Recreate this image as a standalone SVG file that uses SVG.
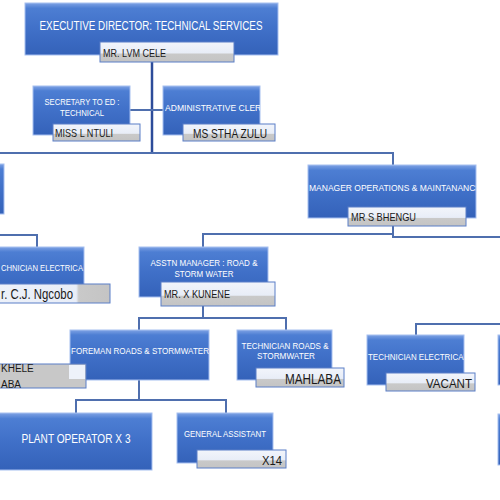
<svg xmlns="http://www.w3.org/2000/svg" width="500" height="500" viewBox="0 0 500 500">
<defs>
<linearGradient id="bx" x1="0" y1="0" x2="0" y2="1">
<stop offset="0" stop-color="#7ea2e4"/>
<stop offset="0.1" stop-color="#4d7ed3"/>
<stop offset="0.5" stop-color="#4070c8"/>
<stop offset="1" stop-color="#3462b9"/>
</linearGradient>
<linearGradient id="nm" x1="0" y1="0" x2="0" y2="1">
<stop offset="0" stop-color="#f2f5fb"/>
<stop offset="0.55" stop-color="#e8edf7"/>
<stop offset="0.6" stop-color="#c9c9c9"/>
<stop offset="1" stop-color="#c4c4c4"/>
</linearGradient>
<linearGradient id="nmh" x1="0" y1="0" x2="1" y2="0">
<stop offset="0" stop-color="#eef2fa"/>
<stop offset="0.74" stop-color="#e8edf7"/>
<stop offset="0.76" stop-color="#c9c9c9"/>
<stop offset="1" stop-color="#c4c4c4"/>
</linearGradient>
<clipPath id="cMgr"><rect x="308" y="165" width="168" height="53"/></clipPath>
<clipPath id="cAdm"><rect x="163" y="86" width="97" height="49"/></clipPath>
<clipPath id="cFor"><rect x="70" y="330" width="139" height="50"/></clipPath>
<clipPath id="cTe2"><rect x="367" y="335" width="97" height="50"/></clipPath>
</defs>
<style>
.b{fill:url(#bx);stroke:#a6bff0;stroke-width:1}
.n{fill:url(#nm);stroke:#5b7fc7;stroke-width:1}
.t{font-family:"Liberation Sans",Arial,sans-serif;fill:#ffffff;font-size:8.5px}
.d{font-family:"Liberation Sans",Arial,sans-serif;fill:#1a1a1a}
.c{fill:none;stroke:#4f6fae;stroke-width:2}
</style>
<rect width="500" height="500" fill="#ffffff"/>
<g id="connectors">
<path d="M152 62V153" fill="none" stroke="#2d4c9a" stroke-width="2.5"/>
<path class="c" d="M130 110H163"/>
<path class="c" d="M0 153H393V165"/>
<path class="c" d="M393 226V237H500"/>
<path class="c" d="M393 234H203V247"/>
<path class="c" d="M0 235H37V247"/>
<path class="c" d="M203 306V318"/>
<path class="c" d="M139 330V318H286V330"/>
<path class="c" d="M139 380V400"/>
<path class="c" d="M76 413V400H226V413"/>
<path class="c" d="M416 335V324H500"/>
</g>
<g id="ed">
<rect class="b" x="25" y="3" width="253" height="52"/>
<text class="t" x="151" y="30" text-anchor="middle" style="font-size:12.5px" textLength="223" lengthAdjust="spacingAndGlyphs">EXECUTIVE DIRECTOR: TECHNICAL SERVICES</text>
<rect class="n" x="100" y="42" width="134" height="20"/>
<text class="d" x="103" y="57" font-size="11" textLength="63" lengthAdjust="spacingAndGlyphs">MR. LVM CELE</text>
</g>
<g id="secretary">
<rect class="b" x="33" y="86" width="97" height="49"/>
<text class="t" x="82" y="105" text-anchor="middle" textLength="75" lengthAdjust="spacingAndGlyphs">SECRETARY TO ED :</text>
<text class="t" x="82" y="116" text-anchor="middle" textLength="44" lengthAdjust="spacingAndGlyphs">TECHNICAL</text>
<rect class="n" x="53" y="124" width="87" height="17"/>
<text class="d" x="55" y="137" font-size="10.5" textLength="58" lengthAdjust="spacingAndGlyphs">MISS L NTULI</text>
</g>
<g id="admin">
<rect class="b" x="163" y="86" width="97" height="49"/>
<text class="t" x="165" y="111" clip-path="url(#cAdm)" textLength="102" lengthAdjust="spacingAndGlyphs">ADMINISTRATIVE  CLERK</text>
<rect class="n" x="183" y="124" width="92" height="17"/>
<text class="d" x="193" y="138" font-size="12" textLength="74" lengthAdjust="spacingAndGlyphs">MS STHA ZULU</text>
</g>
<g id="left-partial">
<rect class="b" x="-10" y="164" width="14" height="50"/>
</g>
<g id="manager">
<rect class="b" x="308" y="165" width="168" height="53"/>
<text class="t" x="309" y="191" clip-path="url(#cMgr)" textLength="172" lengthAdjust="spacingAndGlyphs">MANAGER OPERATIONS &amp; MAINTANANCE</text>
<rect class="n" x="348" y="207" width="118" height="19"/>
<text class="d" x="351" y="221" font-size="10.5" textLength="65" lengthAdjust="spacingAndGlyphs">MR S BHENGU</text>
</g>
<g id="tech-elec-left">
<rect class="b" x="-20" y="247" width="104" height="50"/>
<text class="t" x="1" y="271" textLength="82" lengthAdjust="spacingAndGlyphs">CHNICIAN ELECTRICA</text>
<rect x="-20" y="284" width="130" height="19" fill="url(#nmh)" stroke="#5b7fc7" stroke-width="1"/>
<text class="d" x="1" y="299" font-size="15" textLength="72" lengthAdjust="spacingAndGlyphs">r. C.J. Ngcobo</text>
</g>
<g id="asst-manager">
<rect class="b" x="139" y="247" width="129" height="50"/>
<text class="t" x="204" y="266" text-anchor="middle" textLength="107" lengthAdjust="spacingAndGlyphs">ASSTN MANAGER : ROAD &amp;</text>
<text class="t" x="204" y="277" text-anchor="middle" textLength="59" lengthAdjust="spacingAndGlyphs">STORM WATER</text>
<rect class="n" x="161" y="282" width="114" height="24"/>
<text class="d" x="164" y="298" font-size="11" textLength="66" lengthAdjust="spacingAndGlyphs">MR. X KUNENE</text>
</g>
<g id="foreman">
<rect class="b" x="70" y="330" width="139" height="50"/>
<text class="t" x="71" y="354" clip-path="url(#cFor)" textLength="138" lengthAdjust="spacingAndGlyphs">FOREMAN ROADS &amp; STORMWATER</text>
<rect x="-20" y="364" width="106" height="24" fill="#c8c8c8" stroke="#5b7fc7" stroke-width="1"/>
<rect x="69" y="365" width="16" height="14" fill="#eef2fa"/>
<text class="d" x="1" y="372" font-size="10">KHELE</text>
<text class="d" x="1" y="388" font-size="10">ABA</text>
</g>
<g id="tech-roads">
<rect class="b" x="237" y="330" width="95" height="50"/>
<text class="t" x="285" y="349" text-anchor="middle" textLength="87" lengthAdjust="spacingAndGlyphs">TECHNICIAN ROADS &amp;</text>
<text class="t" x="286" y="359" text-anchor="middle" textLength="58" lengthAdjust="spacingAndGlyphs">STORMWATER</text>
<rect class="n" x="256" y="368" width="88" height="19"/>
<text class="d" x="341" y="384" font-size="14" text-anchor="end" textLength="56" lengthAdjust="spacingAndGlyphs">MAHLABA</text>
</g>
<g id="tech-elec-right">
<rect class="b" x="367" y="335" width="97" height="50"/>
<text class="t" x="368" y="360" clip-path="url(#cTe2)" textLength="100" lengthAdjust="spacingAndGlyphs">TECHNICIAN ELECTRICAL</text>
<rect class="n" x="386" y="373" width="89" height="18"/>
<text class="d" x="472" y="388" font-size="13" text-anchor="end" textLength="46" lengthAdjust="spacingAndGlyphs">VACANT</text>
</g>
<g id="right-partial-1">
<rect class="b" x="498" y="335" width="20" height="50"/>
</g>
<g id="right-partial-2">
<rect class="b" x="498" y="414" width="20" height="51"/>
</g>
<g id="plant-operator">
<rect class="b" x="-10" y="413" width="162" height="57"/>
<text class="t" x="76" y="443" text-anchor="middle" style="font-size:13px" textLength="109" lengthAdjust="spacingAndGlyphs">PLANT OPERATOR X 3</text>
</g>
<g id="general-assistant">
<rect class="b" x="177" y="413" width="96" height="50"/>
<text class="t" x="225" y="437" text-anchor="middle" textLength="82" lengthAdjust="spacingAndGlyphs">GENERAL ASSISTANT</text>
<rect class="n" x="197" y="450" width="89" height="18"/>
<text class="d" x="282" y="465" font-size="12" text-anchor="end" textLength="20" lengthAdjust="spacingAndGlyphs">X14</text>
</g>
</svg>
